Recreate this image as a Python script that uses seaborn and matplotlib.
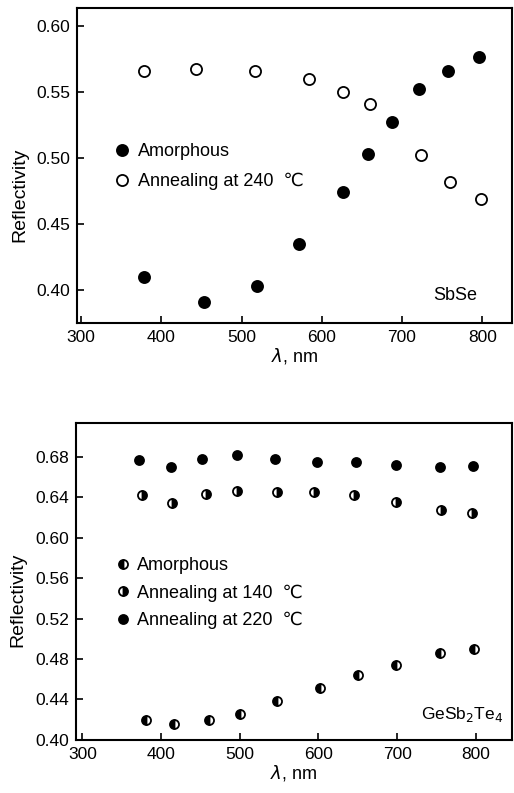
"""Reflectivity spectra of SbSe and GeSb2Te4 films."""

import matplotlib
matplotlib.use("Agg")
import matplotlib.pyplot as plt
import seaborn as sns

# SbSe
sbse_amor_wl = [379, 453, 519, 572, 626, 657, 687, 721, 757, 796]
sbse_amor_r = [0.410, 0.391, 0.403, 0.435, 0.474, 0.503, 0.527, 0.552, 0.566, 0.576]
sbse_ann_wl = [378, 443, 517, 584, 626, 660, 724, 760, 798]
sbse_ann_r = [0.566, 0.567, 0.566, 0.560, 0.550, 0.541, 0.502, 0.482, 0.469]

# GeSb2Te4
gst_amor_wl = [381, 417, 461, 500, 547, 602, 650, 698, 755, 798]
gst_amor_r = [0.420, 0.416, 0.420, 0.426, 0.438, 0.451, 0.464, 0.474, 0.486, 0.490]
gst_140_wl = [376, 414, 457, 497, 548, 594, 645, 698, 756, 795]
gst_140_r = [0.642, 0.634, 0.643, 0.646, 0.645, 0.645, 0.642, 0.635, 0.628, 0.625]
gst_220_wl = [372, 413, 452, 496, 545, 598, 648, 698, 754, 797]
gst_220_r = [0.677, 0.670, 0.678, 0.682, 0.678, 0.675, 0.675, 0.672, 0.670, 0.671]

sns.set_theme(style="ticks")
plt.rcParams["font.family"] = ["Liberation Sans", "DejaVu Sans"]
plt.rcParams.update({
    "axes.linewidth": 1.5,
    "xtick.direction": "in",
    "ytick.direction": "in",
    "text.color": "black",
    "axes.labelcolor": "black",
    "axes.edgecolor": "black",
    "xtick.color": "black",
    "ytick.color": "black",
})

fig = plt.figure(figsize=(5.14, 7.93), dpi=100)
ax1 = fig.add_axes([0.150, 0.593, 0.846, 0.397])
ax2 = fig.add_axes([0.148, 0.067, 0.848, 0.400])

pt = dict(linestyle="", color="black", markeredgecolor="black",
          markeredgewidth=1.3, estimator=None, sort=False)

sns.lineplot(x=sbse_amor_wl, y=sbse_amor_r, marker="o", markersize=8,
             label="Amorphous", ax=ax1, **pt)
sns.lineplot(x=sbse_ann_wl, y=sbse_ann_r, marker="o", markersize=8,
             markerfacecolor="white", label="Annealing at 240  \u2103", ax=ax1, **pt)

sns.lineplot(x=gst_amor_wl, y=gst_amor_r, marker="o", markersize=6.5,
             fillstyle="left", markerfacecolor="black", markerfacecoloralt="white",
             label="Amorphous", ax=ax2, **pt)
sns.lineplot(x=gst_140_wl, y=gst_140_r, marker="o", markersize=6.5,
             fillstyle="right", markerfacecolor="black", markerfacecoloralt="white",
             label="Annealing at 140  \u2103", ax=ax2, **pt)
sns.lineplot(x=gst_220_wl, y=gst_220_r, marker="o", markersize=6.5,
             label="Annealing at 220  \u2103", ax=ax2, **pt)

ax1.set_xlim(295, 837)
ax1.set_ylim(0.375, 0.6135)
ax1.set_xticks([300, 400, 500, 600, 700, 800])
ax1.set_yticks([0.40, 0.45, 0.50, 0.55, 0.60])
ax1.yaxis.set_major_formatter(matplotlib.ticker.FormatStrFormatter("%.2f"))

ax2.set_xlim(292, 846)
ax2.set_ylim(0.40, 0.714)
ax2.set_xticks([300, 400, 500, 600, 700, 800])
ax2.set_yticks([0.40, 0.44, 0.48, 0.52, 0.56, 0.60, 0.64, 0.68])
ax2.yaxis.set_major_formatter(matplotlib.ticker.FormatStrFormatter("%.2f"))

for ax, lab_y in ((ax1, 0.405), (ax2, 0.44)):
    for s in ax.spines.values():
        s.set_visible(True)
        s.set_linewidth(1.5)
        s.set_color("black")
    ax.tick_params(labelsize=12.5, length=5, width=1.2, pad=5, colors="black")
    ax.set_xlabel(r"$\lambda$, nm", fontsize=13, labelpad=1)
    ax.set_ylabel("Reflectivity", fontsize=14)
    ax.yaxis.set_label_coords(-0.113, lab_y)

ax1.legend(loc="upper left", bbox_to_anchor=(0.087, 0.57), frameon=False,
           fontsize=13, handlelength=0.8, handletextpad=0.45,
           borderpad=0, borderaxespad=0, labelspacing=0.7)
ax2.legend(loc="upper left", bbox_to_anchor=(0.092, 0.575), frameon=False,
           fontsize=13, handlelength=0.8, handletextpad=0.35,
           borderpad=0, borderaxespad=0, labelspacing=0.55)

ax1.text(0.87, 0.085, "SbSe", transform=ax1.transAxes, fontsize=13,
         ha="center", va="center")
ax2.text(0.885, 0.08, "GeSb$_2$Te$_4$", transform=ax2.transAxes, fontsize=12.5,
         ha="center", va="center")

fig.savefig("out.png", dpi=100)
